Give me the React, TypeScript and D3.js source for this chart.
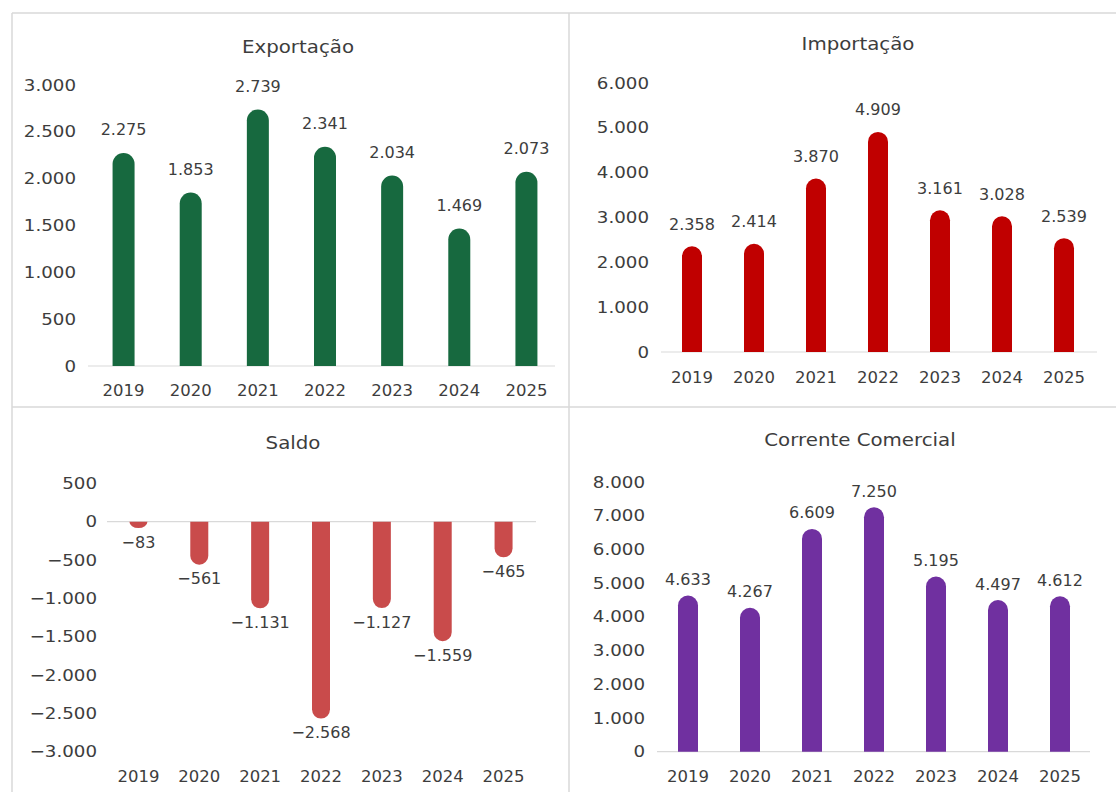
import React from "react";
import * as d3 from "d3";

const years = ["2019", "2020", "2021", "2022", "2023", "2024", "2025"];
const exportacao = [2275, 1853, 2739, 2341, 2034, 1469, 2073];
const importacao = [2358, 2414, 3870, 4909, 3161, 3028, 2539];
const saldo = [-83, -561, -1131, -2568, -1127, -1559, -465];
const corrente = [4633, 4267, 6609, 7250, 5195, 4497, 4612];

const ticksExp = [0, 500, 1000, 1500, 2000, 2500, 3000];
const ticksImp = [0, 1000, 2000, 3000, 4000, 5000, 6000];
const ticksSaldo = [500, 0, -500, -1000, -1500, -2000, -2500, -3000];
const ticksCor = [0, 1000, 2000, 3000, 4000, 5000, 6000, 7000, 8000];

const fmt = (v: number) => {
  const s = d3.format(",")(Math.abs(v)).replace(/,/g, ".");
  return v < 0 ? "\u2212" + s : s;
};

const FONT = "'DejaVu Sans', sans-serif";
const TXT = "#3d3d3d";

type TProps = { x: number; y: number; size: number; sx?: number; anchor?: string; children: React.ReactNode };
const T = ({ x, y, size, sx = 1, anchor = "middle", children }: TProps) => (
  <text
    transform={`translate(${x},${y}) scale(${sx},1)`}
    textAnchor={anchor as any}
    dominantBaseline="central"
    fontFamily={FONT}
    fontSize={size}
    fill={TXT}
  >
    {children}
  </text>
);

type PanelCfg = {
  title: string;
  titleX: number;
  titleY: number;
  values: number[];
  ticks: number[];
  domain: [number, number];
  yRange: [number, number];
  xRange: [number, number];
  axisX: [number, number];
  tickRight: number;
  xLabelY: number;
  barW: number;
  color: string;
  labelOff: number;
};

function barPath(cx: number, w: number, y0: number, y1: number) {
  const x0 = cx - w / 2;
  const x1 = cx + w / 2;
  const h = Math.abs(y1 - y0);
  const rx = w / 2;
  const ry = Math.min(rx, h);
  if (y1 < y0) {
    return `M${x0},${y0} L${x0},${y1 + ry} A${rx},${ry} 0 0 1 ${x1},${y1 + ry} L${x1},${y0} Z`;
  }
  return `M${x0},${y0} L${x0},${y1 - ry} A${rx},${ry} 0 0 0 ${x1},${y1 - ry} L${x1},${y0} Z`;
}

const Panel = ({ c }: { c: PanelCfg }) => {
  const y = d3.scaleLinear().domain(c.domain).range(c.yRange);
  const x = d3.scaleBand().domain(years).range(c.xRange).padding(0);
  const zero = y(0);
  return (
    <g>
      <T x={c.titleX} y={c.titleY} size={18} sx={1.1}>
        {c.title}
      </T>
      {c.ticks.map((t) => (
        <T key={t} x={c.tickRight} y={y(t)} size={16} sx={1.14} anchor="end">
          {fmt(t)}
        </T>
      ))}
      <line x1={c.axisX[0]} x2={c.axisX[1]} y1={zero} y2={zero} stroke="#d9d9d9" strokeWidth={1.2} />
      {c.values.map((v, i) => {
        const cx = (x(years[i]) as number) + x.bandwidth() / 2;
        const yv = y(v);
        return (
          <g key={i}>
            <path d={barPath(cx, c.barW, zero, yv)} fill={c.color} />
            <T x={cx} y={v >= 0 ? yv - c.labelOff : yv + c.labelOff} size={16} sx={1.0}>
              {fmt(v)}
            </T>
            <T x={cx} y={c.xLabelY} size={16} sx={1.03}>
              {years[i]}
            </T>
          </g>
        );
      })}
    </g>
  );
};

const panels: PanelCfg[] = [
  {
    title: "Exportação",
    titleX: 298,
    titleY: 46,
    values: exportacao,
    ticks: ticksExp,
    domain: [0, 3000],
    yRange: [366, 85],
    xRange: [90, 560],
    axisX: [88, 555],
    tickRight: 76,
    xLabelY: 391,
    barW: 22,
    color: "#17693f",
    labelOff: 23,
  },
  {
    title: "Importação",
    titleX: 858,
    titleY: 43,
    values: importacao,
    ticks: ticksImp,
    domain: [0, 6000],
    yRange: [352, 83],
    xRange: [661, 1095],
    axisX: [661, 1097],
    tickRight: 649,
    xLabelY: 378,
    barW: 20,
    color: "#c00000",
    labelOff: 22,
  },
  {
    title: "Saldo",
    titleX: 293,
    titleY: 442,
    values: saldo,
    ticks: ticksSaldo,
    domain: [-3000, 500],
    yRange: [751.7, 483.3],
    xRange: [108, 534],
    axisX: [107, 536],
    tickRight: 97,
    xLabelY: 777,
    barW: 18,
    color: "#c94b4b",
    labelOff: 14,
  },
  {
    title: "Corrente Comercial",
    titleX: 860,
    titleY: 439,
    values: corrente,
    ticks: ticksCor,
    domain: [0, 8000],
    yRange: [751.7, 482],
    xRange: [657, 1091],
    axisX: [657, 1090],
    tickRight: 645,
    xLabelY: 777,
    barW: 20,
    color: "#7030a0",
    labelOff: 16,
  },
];

export default function App() {
  return (
    <svg
      width={1116}
      height={792}
      style={{ position: "absolute", left: 0, top: 0, background: "#ffffff" }}
    >
      <rect x={0} y={0} width={1116} height={792} fill="#ffffff" />
      <line x1={12} x2={1116} y1={13} y2={13} stroke="#d9d9d9" strokeWidth={1.5} />
      <line x1={12} x2={1116} y1={407} y2={407} stroke="#d9d9d9" strokeWidth={1.5} />
      <line x1={12} x2={12} y1={13} y2={792} stroke="#d9d9d9" strokeWidth={1.5} />
      <line x1={569} x2={569} y1={13} y2={792} stroke="#d9d9d9" strokeWidth={1.5} />
      {panels.map((p) => (
        <Panel key={p.title} c={p} />
      ))}
    </svg>
  );
}
